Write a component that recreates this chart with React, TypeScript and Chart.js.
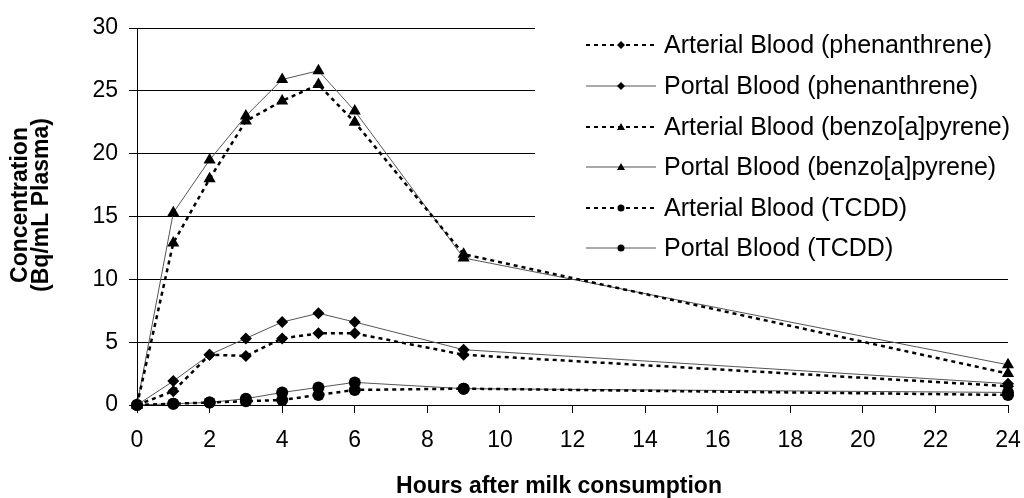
import React, { useEffect, useRef } from "react";
import { Chart, registerables } from "chart.js";

Chart.register(...registerables);

const hours = [0, 1, 2, 3, 4, 5, 6, 9, 24];
const phenArterial = [0, 1.1, 4.0, 3.9, 5.3, 5.7, 5.7, 4.0, 1.5];
const phenPortal = [0, 1.9, 4.0, 5.3, 6.6, 7.3, 6.6, 4.4, 1.7];
const bapArterial = [0, 12.9, 18.0, 22.6, 24.2, 25.5, 22.5, 12.0, 2.5];
const bapPortal = [0, 15.3, 19.5, 23.0, 25.9, 26.6, 23.4, 11.7, 3.2];
const tcddArterial = [0, 0.1, 0.2, 0.3, 0.4, 0.8, 1.2, 1.3, 0.8];
const tcddPortal = [0, 0.1, 0.2, 0.5, 1.0, 1.4, 1.8, 1.3, 1.0];

const seriesLabels = [
  "Arterial Blood (phenanthrene)",
  "Portal Blood (phenanthrene)",
  "Arterial Blood (benzo[a]pyrene)",
  "Portal Blood (benzo[a]pyrene)",
  "Arterial Blood (TCDD)",
  "Portal Blood (TCDD)",
];
const xTitle = "Hours after milk consumption";
const yTitleLines = ["Concentration", "(Bq/mL Plasma)"];

const FONT = "'Liberation Sans', Arial, sans-serif";

type Marker = "diamond" | "triangle" | "circle";

function drawMarker(ctx: CanvasRenderingContext2D, kind: Marker, x: number, y: number, r: number) {
  ctx.save();
  ctx.fillStyle = "#000";
  ctx.strokeStyle = "#000";
  ctx.setLineDash([]);
  ctx.beginPath();
  if (kind === "diamond") {
    ctx.moveTo(x, y - r);
    ctx.lineTo(x + r, y);
    ctx.lineTo(x, y + r);
    ctx.lineTo(x - r, y);
    ctx.closePath();
  } else if (kind === "triangle") {
    ctx.moveTo(x, y - r);
    ctx.lineTo(x + r, y + r * 0.75);
    ctx.lineTo(x - r, y + r * 0.75);
    ctx.closePath();
  } else {
    ctx.arc(x, y, r, 0, Math.PI * 2);
  }
  ctx.fill();
  ctx.restore();
}

export default function App() {
  const ref = useRef<HTMLCanvasElement>(null);

  useEffect(() => {
    const canvas = ref.current!;
    const toPts = (ys: number[]) => hours.map((h, i) => ({ x: h, y: ys[i] }));
    const solid = { borderColor: "#555555", borderWidth: 1, borderDash: [] as number[] };
    const dashed = { borderColor: "#000000", borderWidth: 2.5, borderDash: [4, 4] };
    const seriesData = [phenArterial, phenPortal, bapArterial, bapPortal, tcddArterial, tcddPortal];
    const markers: Marker[] = ["diamond", "diamond", "triangle", "triangle", "circle", "circle"];
    const pointStyles = ["rectRot", "rectRot", "triangle", "triangle", "circle", "circle"];
    const radii = [6, 6, 7, 7, 6, 6];

    const datasets = seriesData.map((d, i) => ({
      label: seriesLabels[i],
      data: toPts(d),
      ...(i % 2 === 0 ? dashed : solid),
      pointStyle: pointStyles[i],
      pointRadius: radii[i],
      pointBackgroundColor: "#000",
      pointBorderColor: "#000",
      pointBorderWidth: 0,
      tension: 0,
      fill: false,
      clip: false as any,
    }));

    const overlay = {
      id: "overlay",
      beforeDatasetsDraw(chart: any) {
        const ctx = chart.ctx as CanvasRenderingContext2D;
        ctx.save();
        ctx.fillStyle = "#fff";
        ctx.fillRect(535, 18, 1024 - 535 - 14, 247);
        ctx.restore();
      },
      afterDraw(chart: any) {
        const ctx = chart.ctx as CanvasRenderingContext2D;
        ctx.save();
        // legend
        const rowY = [45, 86, 127, 167, 208, 248];
        seriesLabels.forEach((lab, i) => {
          const y = rowY[i];
          ctx.save();
          if (i % 2 === 0) {
            ctx.strokeStyle = "#000";
            ctx.lineWidth = 2;
            ctx.setLineDash([4, 4]);
          } else {
            ctx.strokeStyle = "#555";
            ctx.lineWidth = 1;
            ctx.setLineDash([]);
          }
          ctx.beginPath();
          ctx.moveTo(586, y);
          ctx.lineTo(656, y);
          ctx.stroke();
          ctx.restore();
          drawMarker(ctx, markers[i], 621, y, markers[i] === "circle" ? 3.5 : 4);
          ctx.fillStyle = "#000";
          ctx.font = `25px ${FONT}`;
          ctx.textAlign = "left";
          ctx.textBaseline = "middle";
          ctx.fillText(lab, 664, y + 1);
        });
        // axis titles
        ctx.fillStyle = "#000";
        ctx.font = `bold 23px ${FONT}`;
        ctx.textAlign = "center";
        ctx.textBaseline = "middle";
        ctx.fillText(xTitle, 559, 487);
        const xs = [21, 42];
        yTitleLines.forEach((t, i) => {
          ctx.save();
          ctx.translate(xs[i], 205);
          ctx.rotate(-Math.PI / 2);
          ctx.fillText(t, 0, 0);
          ctx.restore();
        });
        ctx.restore();
      },
    };

    const chart = new Chart(canvas, {
      type: "line",
      data: { datasets: datasets as any },
      options: {
        animation: false,
        responsive: false,
        maintainAspectRatio: false,
        layout: { padding: { top: 28, right: 16, left: 0, bottom: 0 } },
        plugins: { legend: { display: false }, tooltip: { enabled: false }, title: { display: false } },
        scales: {
          x: {
            type: "linear",
            min: 0,
            max: 24,
            ticks: { stepSize: 2, color: "#000", font: { family: FONT, size: 23 }, padding: 14, maxRotation: 0 },
            grid: { drawOnChartArea: false, drawTicks: true, tickLength: 8, color: "#000", lineWidth: 1 },
            border: { color: "#000", width: 1 },
            afterFit: (s: any) => {
              s.height = 93;
              s.paddingLeft = 0;
              s.paddingRight = 0;
            },
          },
          y: {
            min: 0,
            max: 30,
            ticks: { stepSize: 5, color: "#000", font: { family: FONT, size: 23 }, padding: 11 },
            grid: { color: "#000", lineWidth: 1, tickLength: 8 },
            border: { color: "#000", width: 1 },
            afterFit: (s: any) => {
              s.width = 137;
              s.paddingTop = 0;
              s.paddingBottom = 0;
            },
          },
        },
      },
      plugins: [overlay],
    });
    return () => chart.destroy();
  }, []);

  return (
    <div style={{ position: "absolute", left: 0, top: 0, width: 1024, height: 498, background: "#fff" }}>
      <canvas ref={ref} width={1024} height={498} style={{ width: 1024, height: 498, display: "block" }} />
    </div>
  );
}
